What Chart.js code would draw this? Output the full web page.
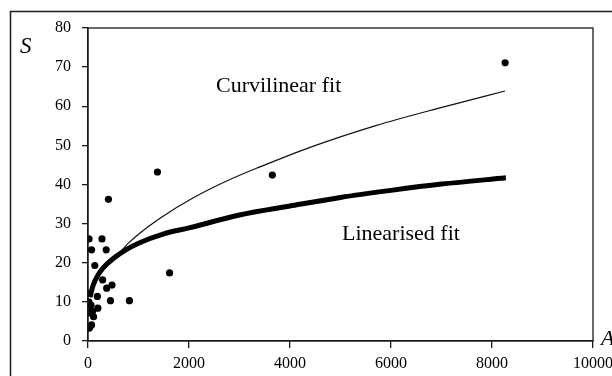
<!DOCTYPE html>
<html>
<head>
<meta charset="utf-8">
<script src="https://cdn.jsdelivr.net/npm/chart.js@4/dist/chart.umd.min.js"></script>
<style>
  html, body { margin: 0; padding: 0; background: #fff; overflow: hidden; }
  #wrap { width: 612px; height: 376px; position: relative; }
</style>
</head>
<body>
<div id="wrap"><canvas id="c" width="612" height="376"></canvas></div>
<script>
// Observed data (area A, species S)
const obsA = [20, 277, 70, 360, 405, 135, 1375, 1615, 3650, 8260, 290, 475, 370, 5, 185, 445, 820, 195, 10, 35, 60, 110, 70, 28, 15, 90];
const obsS = [26.1, 26.1, 23.3, 23.3, 36.2, 19.3, 43.2, 17.4, 42.4, 71.1, 15.6, 14.3, 13.5, 12.2, 11.4, 10.3, 10.3, 8.4, 8.3, 7.2, 9.2, 6.2, 4.1, 3.3, 10.0, 7.6];

// Linearised fit
const linA = [40, 100, 200, 300, 500, 750, 1000, 1500, 2000, 3000, 4000, 5000, 6000, 7000, 8275];
const linS = [11.2, 14.2, 16.9, 18.7, 21.1, 23.3, 25.0, 27.4, 28.9, 32.2, 34.5, 36.7, 38.5, 40.1, 41.7];

// Curvilinear fit
const curA = [600, 800, 1000, 1426, 2086, 2800, 3406, 4396, 5683, 6970, 8257];
const curS = [22.2, 25.0, 27.3, 31.4, 36.6, 41.2, 44.5, 49.5, 55.0, 59.6, 63.9];

// Axis ticks
const xTicks = [0, 2000, 4000, 6000, 8000, 10000];
const yTicks = [0, 10, 20, 30, 40, 50, 60, 70, 80];

const toXY = (xs, ys) => xs.map((x, i) => ({ x: x, y: ys[i] }));

const INK = '#1a1a1a';
const SERIF = '"Liberation Serif", "Times New Roman", serif';

const frame = {
  id: 'frame',
  beforeDraw(chart) {
    const ctx = chart.ctx;
    ctx.save();
    ctx.fillStyle = '#fff';
    ctx.fillRect(0, 0, chart.width, chart.height);
    ctx.strokeStyle = INK;
    ctx.lineWidth = 1.5;
    ctx.strokeRect(10.5, 11.5, 800, 600);
    ctx.restore();
  },
  afterDatasetsDraw(chart) {
    const ctx = chart.ctx;
    const a = chart.chartArea;
    ctx.save();
    ctx.strokeStyle = INK;
    ctx.lineWidth = 1.3;
    ctx.strokeRect(a.left, a.top, a.right - a.left, a.bottom - a.top);
    ctx.fillStyle = '#000';
    ctx.textBaseline = 'alphabetic';
    ctx.font = '22px ' + SERIF;
    ctx.fillText('Curvilinear fit', 216, 92);
    ctx.fillText('Linearised fit', 342, 240);
    ctx.font = 'italic 23px ' + SERIF;
    ctx.fillText('S', 20, 53);
    ctx.font = 'italic 22px ' + SERIF;
    ctx.fillText('A', 601, 345);
    ctx.restore();
  }
};

new Chart(document.getElementById('c'), {
  type: 'scatter',
  data: {
    datasets: [
      {
        label: 'Curvilinear fit',
        data: toXY(curA, curS),
        showLine: true,
        borderColor: '#111',
        borderWidth: 1.2,
        pointRadius: 0,
        cubicInterpolationMode: 'monotone',
        order: 3
      },
      {
        label: 'Linearised fit',
        data: toXY(linA, linS),
        showLine: true,
        borderColor: '#000',
        borderWidth: 5,
        pointRadius: 0,
        cubicInterpolationMode: 'monotone',
        order: 2
      },
      {
        label: 'Observed',
        data: toXY(obsA, obsS),
        showLine: false,
        pointRadius: 3.6,
        pointBackgroundColor: '#000',
        pointBorderColor: '#000',
        pointBorderWidth: 0,
        order: 1
      }
    ]
  },
  options: {
    responsive: false,
    animation: false,
    devicePixelRatio: 1,
    layout: { padding: { left: 0, top: 28, right: 19, bottom: 0 } },
    plugins: { legend: { display: false }, tooltip: { enabled: false } },
    scales: {
      x: {
        type: 'linear',
        min: 0, max: 10000,
        afterBuildTicks(scale) { scale.ticks = xTicks.map(v => ({ value: v })); },
        afterFit(scale) { scale.height = 35; scale.paddingLeft = 0; scale.paddingRight = 0; },
        grid: { display: true, drawOnChartArea: false, drawTicks: true, tickLength: 7, color: INK, lineWidth: 1.3 },
        border: { display: true, color: INK, width: 1.3 },
        ticks: { color: '#000', font: { family: SERIF, size: 16 }, padding: 6, maxRotation: 0,
                 callback: (v) => String(v) }
      },
      y: {
        type: 'linear',
        min: 0, max: 80,
        afterBuildTicks(scale) { scale.ticks = yTicks.map(v => ({ value: v })); },
        afterFit(scale) { scale.width = 88; scale.paddingTop = 0; scale.paddingBottom = 0; },
        grid: { display: true, drawOnChartArea: false, drawTicks: true, tickLength: 6, color: INK, lineWidth: 1.3 },
        border: { display: true, color: INK, width: 1.3 },
        ticks: { color: '#000', font: { family: SERIF, size: 16 }, padding: 11,
                 callback: (v) => String(v) }
      }
    }
  },
  plugins: [frame]
});
</script>
</body>
</html>
